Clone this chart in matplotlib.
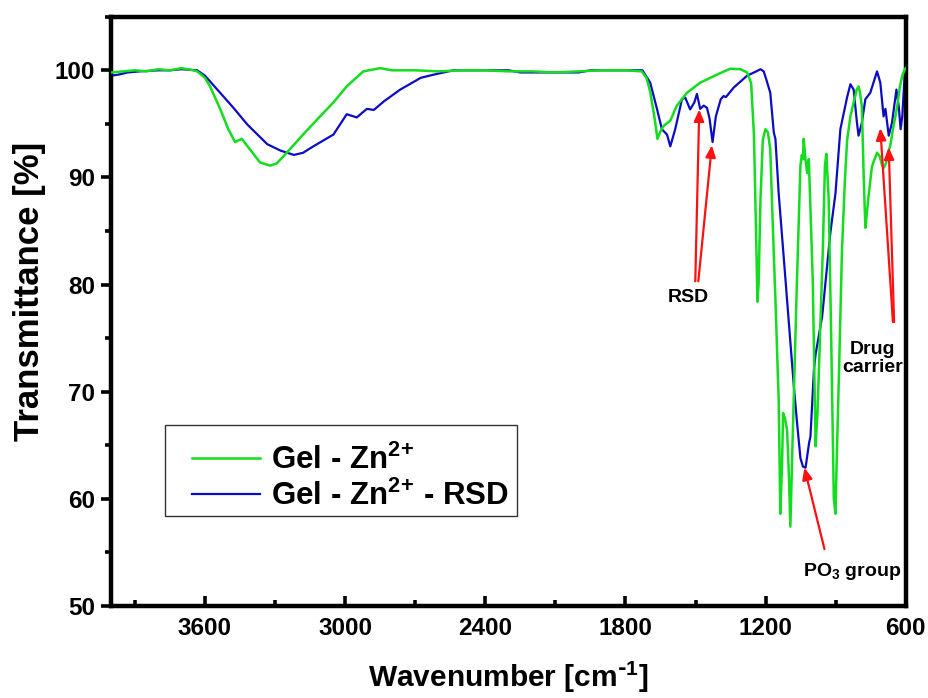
import matplotlib

matplotlib.use("Agg")
import matplotlib.pyplot as plt
from matplotlib.patches import Rectangle
from matplotlib.ticker import MultipleLocator

plt.rcParams["font.family"] = ["Liberation Sans", "DejaVu Sans"]
plt.rcParams["font.weight"] = "bold"
plt.rcParams["mathtext.default"] = "regular"

# Gel - Zn2+ (green)
gel_wn = [4000, 3950, 3900, 3850, 3800, 3750, 3700, 3650, 3633, 3600, 3578, 3535,
          3500, 3471, 3442, 3407, 3364, 3321, 3293, 3250, 3180, 3107, 3050, 2993,
          2922, 2850, 2800, 2700, 2600, 2500, 2400, 2300, 2200, 2100, 2000, 1900,
          1800, 1730, 1710, 1694, 1675, 1663, 1650, 1637, 1608, 1580, 1537, 1480,
          1408, 1351, 1308, 1279, 1262, 1250, 1240, 1235, 1230, 1222, 1212, 1201,
          1190, 1180, 1170, 1158, 1144, 1137, 1130, 1125, 1117, 1108, 1100, 1094,
          1085, 1066, 1051, 1045, 1040, 1037, 1030, 1022, 1015, 1005, 998, 986,
          978, 969, 955, 946, 940, 930, 920, 908, 901, 894, 887, 873, 860, 851,
          837, 823, 810, 802, 795, 788, 780, 773, 765, 758, 745, 737, 723, 712,
          701, 695, 685, 673, 666, 655, 637, 625, 615, 604, 600]
gel_t = [99.8, 99.9, 100.0, 99.9, 100.1, 100.0, 100.2, 100.0, 99.9, 99.3, 98.5, 96.4,
         94.5, 93.3, 93.6, 92.6, 91.4, 91.1, 91.3, 92.3, 94.0, 95.7, 97.0, 98.5,
         99.9, 100.2, 100.0, 100.0, 99.9, 100.0, 100.0, 99.9, 99.9, 99.8, 99.9, 100.0,
         100.0, 99.9, 99.3, 98.0, 95.5, 93.6, 94.3, 94.8, 95.3, 96.7, 97.9, 98.85,
         99.6, 100.15, 100.1, 99.8, 98.8, 94.0, 84.0, 78.4, 80.0, 87.9, 93.5, 94.5,
         94.2, 92.6, 86.0, 78.6, 69.2, 58.6, 63.0, 68.0, 67.5, 66.4, 62.0, 57.4,
         65.0, 80.2, 91.1, 92.1, 91.7, 93.6, 91.8, 90.4, 91.7, 85.0, 80.2, 64.9,
         68.0, 73.9, 83.3, 91.1, 92.2, 88.0, 76.0, 60.0, 58.6, 65.0, 70.8, 83.3,
         90.0, 93.5, 95.7, 97.0, 98.2, 98.5, 97.8, 96.6, 90.0, 85.3, 87.0, 88.5,
         91.0, 91.5, 92.3, 92.0, 91.1, 90.9, 91.3, 92.5, 93.0, 94.5, 96.6, 98.5,
         99.5, 100.1, 100.2]

# Gel - Zn2+ - RSD (blue)
rsd_wn = [4000, 3970, 3930, 3880, 3800, 3750, 3700, 3633, 3600, 3547, 3478, 3419,
          3333, 3276, 3219, 3180, 3136, 3050, 2993, 2950, 2907, 2877, 2834, 2764,
          2676, 2620, 2536, 2400, 2300, 2250, 2100, 2000, 1950, 1800, 1727, 1694,
          1665, 1644, 1622, 1608, 1587, 1558, 1544, 1523, 1505, 1494, 1480, 1465,
          1451, 1440, 1427, 1413, 1392, 1380, 1370, 1336, 1279, 1240, 1222, 1208,
          1195, 1180, 1165, 1158, 1144, 1114, 1095, 1078, 1065, 1051, 1040, 1029,
          1014, 1008, 993, 986, 958, 923, 901, 880, 851, 837, 823, 809, 802, 788,
          773, 752, 723, 709, 695, 687, 673, 659, 640, 630, 622, 615, 604, 600]
rsd_t = [99.5, 99.6, 99.8, 99.9, 100.0, 100.0, 100.1, 100.0, 99.5, 98.2, 96.5, 94.95,
         93.1, 92.5, 92.1, 92.3, 92.9, 94.0, 95.9, 95.6, 96.4, 96.3, 97.1, 98.2,
         99.3, 99.6, 100.0, 100.0, 100.0, 99.8, 99.8, 99.8, 100.0, 100.0, 100.0, 98.85,
         96.4, 94.5, 94.0, 92.9, 94.5, 97.3, 97.45, 96.35, 97.0, 97.8, 96.4, 96.7,
         96.5, 95.5, 93.3, 95.7, 97.3, 97.6, 97.5, 98.4, 99.5, 99.9, 100.1, 99.9,
         99.0, 97.9, 94.2, 93.6, 88.5, 80.2, 74.9, 70.2, 67.0, 63.8, 63.0, 62.9,
         65.2, 65.8, 72.1, 73.5, 77.0, 84.8, 88.5, 94.5, 97.5, 98.7, 98.2, 95.1, 93.9,
         95.1, 97.3, 97.9, 99.9, 98.85, 95.7, 96.4, 93.9, 95.1, 98.2, 96.6, 94.5, 95.7,
         99.8, 100.0]

# annotation anchors in data units (wavenumber, transmittance)
rsd_label = (1532, 78.8)
rsd_tips = [(1484, 96.35), (1430, 93.0)]
rsd_tails = [(1501, 80.3), (1488, 80.3)]
po3_label = (829, 53.2)
po3_tip = (1034, 62.9)
po3_tail = (948, 55.3)
drug_label = (743, 73.1)
drug_tips = [(709, 94.6), (673, 92.8)]
drug_tails = [(655, 76.5), (650, 76.5)]

x_ticks = [3600, 3000, 2400, 1800, 1200, 600]
y_ticks = [50, 60, 70, 80, 90, 100]

GREEN = "#14dc1e"
BLUE = "#0c0cc4"
RED = "#ff1010"

fig = plt.figure(figsize=(9.29, 6.98), dpi=100)
ax = fig.add_axes([0.12, 0.132, 0.855, 0.844])

ax.plot(rsd_wn, rsd_t, color=BLUE, lw=1.6, label="Gel - Zn$^{2}$$^{+}$ - RSD", zorder=2)
ax.plot(gel_wn, gel_t, color=GREEN, lw=1.8, label="Gel - Zn$^{2}$$^{+}$", zorder=3)

arrow = dict(arrowstyle="-|>,head_length=0.7,head_width=0.3", color=RED, lw=1.6,
             shrinkA=0, shrinkB=0)
for tip, tail in zip(rsd_tips, rsd_tails):
    ax.annotate("", xy=tip, xytext=tail, arrowprops=arrow, zorder=4)
for tip, tail in zip(drug_tips, drug_tails):
    ax.annotate("", xy=tip, xytext=tail, arrowprops=arrow, zorder=4)
ax.annotate("", xy=po3_tip, xytext=po3_tail, arrowprops=arrow, zorder=4)

ax.text(*rsd_label, "RSD", ha="center", va="center", fontsize=14, fontweight="bold")
ax.text(*drug_label, "Drug\ncarrier", ha="center", va="center", fontsize=14,
        fontweight="bold", linespacing=1.1)
ax.text(*po3_label, "PO$_3$ group", ha="center", va="center", fontsize=14,
        fontweight="bold")

ax.set_xlim(4000, 600)
ax.set_ylim(50, 105)
ax.set_xticks(x_ticks)
ax.set_yticks(y_ticks)
ax.xaxis.set_minor_locator(MultipleLocator(300))
ax.yaxis.set_minor_locator(MultipleLocator(5))
ax.tick_params(axis="x", which="both", direction="in", width=2.6, labelsize=17.5, pad=8)
ax.tick_params(axis="x", which="major", length=7)
ax.tick_params(axis="x", which="minor", length=4)
ax.tick_params(axis="y", which="both", direction="out", width=2.6, labelsize=17.5, pad=5)
ax.tick_params(axis="y", which="major", length=7)
ax.tick_params(axis="y", which="minor", length=4.5)
for lab in ax.get_xticklabels() + ax.get_yticklabels():
    lab.set_fontweight("bold")
for sp in ax.spines.values():
    sp.set_linewidth(3.2)

ax.set_xlabel("Wavenumber [cm$^{\\text{-}1}$]", fontsize=21.5, fontweight="bold",
              labelpad=14)
ax.set_ylabel("Transmittance [%]", fontsize=25, fontweight="bold")
ax.yaxis.set_label_coords(-0.082, 0.534)

# legend: frame drawn as a plain rectangle, entries placed inside it
ax.add_patch(Rectangle((0.0673, 0.1527), 0.443, 0.1544, transform=ax.transAxes,
                       facecolor="white", edgecolor="#333333", lw=1.0, zorder=5))
handles, labels = ax.get_legend_handles_labels()
leg = ax.legend(handles[::-1], labels[::-1], loc="center left",
                bbox_to_anchor=(0.101, 0.216), frameon=False,
                handlelength=2.2, handletextpad=0.35, borderpad=0, borderaxespad=0,
                labelspacing=0.15, prop={"weight": "bold", "size": 22.5})
leg.set_zorder(6)

fig.savefig("out.png", dpi=100)
